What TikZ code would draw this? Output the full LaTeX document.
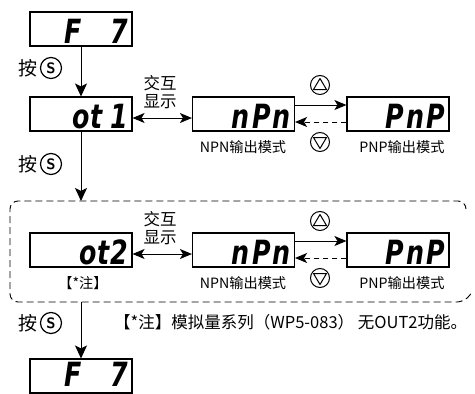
\documentclass[tikz,border=0pt]{standalone}
\usepackage{fontspec}
\setmainfont{Liberation Sans}
\newfontfamily\cjk{Noto Sans CJK SC}
\newfontfamily\segf{DejaVu Sans}
\usetikzlibrary{arrows.meta}
\begin{document}
\begin{tikzpicture}[x=1pt,y=-1pt,
  disp/.style={draw,line width=1.1pt,minimum width=102pt,minimum height=34pt,inner sep=0pt},
  segtxt/.style={anchor=base east,inner sep=0pt,font=\segf\bfseries\itshape\fontsize{23}{23}\selectfont},
  lbl/.style={font=\cjk\fontsize{14.2}{16}\selectfont,inner sep=0pt},
  anlbl/.style={font=\cjk\fontsize{19}{20}\selectfont,inner sep=0pt},
  xlbl/.style={font=\cjk\fontsize{16.5}{18}\selectfont,inner sep=0pt,align=center},
  sbtn/.style={circle,draw,line width=1.2pt,minimum size=21pt,inner sep=0pt,font=\sffamily\bfseries\fontsize{15}{15}\selectfont},
  abtn/.style={circle,draw,line width=1pt,minimum size=19pt,inner sep=0pt},
  varr/.style={line width=1pt,-{Stealth[length=13pt,width=12pt,inset=3pt]}},
  harr/.style={line width=1pt,-{Stealth[length=12pt,width=10pt,inset=3pt]}},
  darr/.style={line width=1pt,{Stealth[length=12pt,width=10pt,inset=3pt]}-{Stealth[length=12pt,width=10pt,inset=3pt]}},
  dbox/.style={line width=0.9pt,dash pattern=on 7pt off 4pt,rounded corners=8pt}
]
\useasboundingbox (0,0) rectangle (475,394);
\clip (0,0) rectangle (475,394);

% displays
\node[disp] (fa) at (81,29) {};
\node[disp] (oa) at (81,114) {};
\node[disp] (na) at (243.5,114) {};
\node[disp] (pa) at (398,114) {};
\node[disp] (ob) at (81,250) {};
\node[disp] (nb) at (243.5,250) {};
\node[disp] (pb) at (398,250) {};
\node[disp] (fb) at (81,376) {};

\node[segtxt] (tfa) at ([xshift=-4pt,yshift=3.5pt]fa.south east) {\scalebox{1.1}[1.45]{F\hspace{26pt}7}};
\node[segtxt] (toa) at ([xshift=-4pt,yshift=3.5pt]oa.south east) {\scalebox{1.1}[1.45]{o\hspace{1pt}t\hspace{7pt}1}};
\node[segtxt] (tna) at ([xshift=-4pt,yshift=3.5pt]na.south east) {\scalebox{1.1}[1.45]{n\hspace{2pt}P\hspace{2pt}n}};
\node[segtxt] (tpa) at ([xshift=-4pt,yshift=3.5pt]pa.south east) {\scalebox{1.1}[1.45]{P\hspace{2pt}n\hspace{2pt}P}};
\node[segtxt] (tob) at ([xshift=-4pt,yshift=3.5pt]ob.south east) {\scalebox{1.1}[1.45]{o\hspace{1pt}t\hspace{1pt}2}};
\node[segtxt] (tnb) at ([xshift=-4pt,yshift=3.5pt]nb.south east) {\scalebox{1.1}[1.45]{n\hspace{2pt}P\hspace{2pt}n}};
\node[segtxt] (tpb) at ([xshift=-4pt,yshift=3.5pt]pb.south east) {\scalebox{1.1}[1.45]{P\hspace{2pt}n\hspace{2pt}P}};
\node[segtxt] (tfb) at ([xshift=-4pt,yshift=7pt]fb.south east) {\scalebox{1.1}[1.45]{F\hspace{26pt}7}};

% press S labels
\node[anlbl] (ka) at (28,68) {按};
\node[sbtn] (sa) at (51,68) {S};
\node[anlbl] (kb) at (28,164) {按};
\node[sbtn] (sb) at (51,164) {S};
\node[anlbl] (kc) at (28,323) {按};
\node[sbtn] (sc) at (51,323) {S};

% dashed group
\draw[dbox] (466,208) -- (466,201) -- (10,201) -- (10,302) -- (465,302) -- (472,292);

\coordinate (dtop) at (81,201);
\coordinate (dbot) at (81,302);

% vertical arrows
\draw[varr] (fa) -- (oa);
\draw[varr] (oa) -- (dtop);
\draw[varr] (dbot) -- (fb);

% row 1
\draw[darr] ([yshift=-4pt]oa.east) -- ([yshift=-4pt]na.west);
\node[xlbl] (xa) at (160,92) {交互\\显示};
\draw[harr] ([yshift=9pt]na.east) -- ([yshift=9pt]pa.west);
\draw[harr,dashed,dash pattern=on 5pt off 4pt] ([yshift=-8pt]pa.west) -- ([yshift=-8pt]na.east);
\node[abtn] (ua) at (320,85) {};
\node[abtn] (da) at (320,142) {};
\draw[line width=1pt,line join=round] (320,78.5) -- (313.5,89.5) -- (326.5,89.5) -- cycle;
\draw[line width=1pt,line join=round] (320,148.5) -- (313.5,137.5) -- (326.5,137.5) -- cycle;
\node[lbl] (la) at (243,147) {NPN输出模式};
\node[lbl] (lb) at (402,147) {PNP输出模式};

% row 2
\draw[darr] ([yshift=-4pt]ob.east) -- ([yshift=-4pt]nb.west);
\node[xlbl] (xb) at (160,228) {交互\\显示};
\draw[harr] ([yshift=9pt]nb.east) -- ([yshift=9pt]pb.west);
\draw[harr,dashed,dash pattern=on 5pt off 4pt] ([yshift=-8pt]pb.west) -- ([yshift=-8pt]nb.east);
\node[abtn] (ub) at (320,221) {};
\node[abtn] (db) at (320,278) {};
\draw[line width=1pt,line join=round] (320,214.5) -- (313.5,225.5) -- (326.5,225.5) -- cycle;
\draw[line width=1pt,line join=round] (320,284.5) -- (313.5,273.5) -- (326.5,273.5) -- cycle;
\node[lbl] (lc) at (243,283) {NPN输出模式};
\node[lbl] (ld) at (402,283) {PNP输出模式};
\node[lbl] (note) at (83,283) {【*注】};

% footnote
\node[lbl,anchor=west,font=\cjk\fontsize{16.5}{18}\selectfont] (fn) at (114,322) {【*注】模拟量系列（WP5-083） 无OUT2功能。};
\end{tikzpicture}
\end{document}
